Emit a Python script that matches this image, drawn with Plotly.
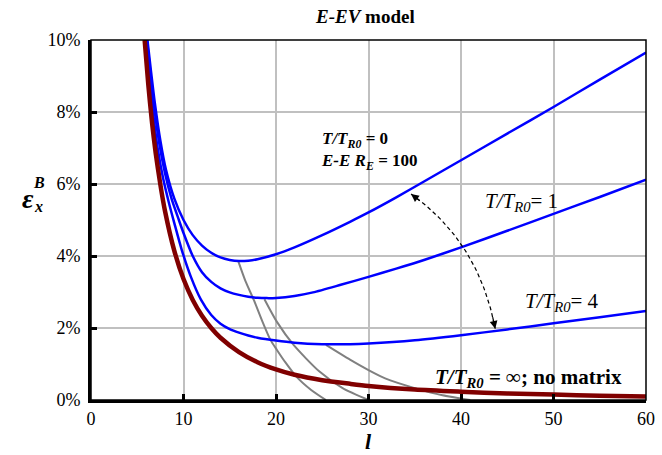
import numpy as np
import plotly.graph_objects as go

# ---- data: bending strain eps_x^B (%) versus slenderness l ----
# T/T_R0 = infinity (no matrix)
l_tinf = [5.8, 6.2, 6.6, 7.0, 7.5, 8.0, 9.0, 10, 11, 12, 13, 14, 16, 18, 20, 22, 25, 28, 30, 35, 40, 45, 50, 55, 60]
eps_tinf = [10.0, 8.75, 7.7, 6.85, 5.98, 5.25, 4.15, 3.36, 2.78, 2.34, 2.0, 1.73, 1.33, 1.05, 0.85, 0.7, 0.55, 0.45, 0.39, 0.29, 0.23, 0.18, 0.15, 0.12, 0.10]

# T/T_R0 = 4
l_t4 = [6.0, 6.3, 6.7, 7.2, 7.8, 8.4, 9.0, 9.8, 10.8, 11.9, 13, 14, 15, 16, 17, 18, 20, 22, 25, 28, 30, 35, 40, 45, 50, 55, 60]
eps_t4 = [10.0, 9.0, 8.0, 7.0, 6.15, 5.5, 4.92, 4.18, 3.42, 2.78, 2.36, 2.12, 1.97, 1.87, 1.79, 1.73, 1.65, 1.59, 1.55, 1.55, 1.57, 1.66, 1.8, 1.96, 2.13, 2.3, 2.47]

# T/T_R0 = 1
l_t1 = [6.05, 6.45, 6.85, 7.4, 8.0, 8.7, 9.5, 10, 11, 12, 13, 14, 15, 16, 17, 18, 19, 20, 22, 24, 27, 30, 33, 36, 40, 45, 50, 55, 60]
eps_t1 = [10.0, 9.0, 8.1, 7.1, 6.3, 5.6, 5.0, 4.64, 4.0, 3.55, 3.28, 3.1, 2.99, 2.92, 2.87, 2.84, 2.83, 2.835, 2.89, 2.99, 3.2, 3.42, 3.65, 3.89, 4.24, 4.7, 5.17, 5.64, 6.12]

# T/T_R0 = 0, E-E R_E = 100
l_t0 = [6.1, 6.5, 6.9, 7.5, 8.1, 9.0, 10, 11, 12, 13, 14, 15, 16, 17, 18, 20, 22, 25, 28, 30, 33, 36, 40, 45, 50, 55, 60]
eps_t0 = [10.0, 9.1, 8.25, 7.2, 6.4, 5.6, 5.0, 4.58, 4.29, 4.09, 3.96, 3.89, 3.86, 3.87, 3.91, 4.05, 4.24, 4.58, 4.95, 5.21, 5.63, 6.07, 6.66, 7.4, 8.14, 8.9, 9.65]

# loci of the minima (gray)
l_g1 = [15.9, 16.7, 17.6, 18.5, 19.4, 20.1, 21.0, 22.2, 23.8, 25.4]
eps_g1 = [3.87, 3.3, 2.78, 2.2, 1.67, 1.39, 1.05, 0.65, 0.28, 0.0]
l_g2 = [18.75, 20.1, 21.9, 24.7, 27.2, 30.0]
eps_g2 = [2.8, 2.17, 1.53, 0.79, 0.33, 0.0]
l_g3 = [25.4, 28.0, 30.0, 31.8, 35.0, 38.0, 41.0]
eps_g3 = [1.53, 1.12, 0.83, 0.6, 0.33, 0.13, 0.0]

x_ticks = [0, 10, 20, 30, 40, 50, 60]
y_ticks = [0, 2, 4, 6, 8, 10]
y_tick_text = ["0%", "2%", "4%", "6%", "8%", "10%"]

SERIF = "Liberation Serif, Times New Roman, DejaVu Serif, serif"
BLUE = "#0000ff"
DARKRED = "#800000"
GRAY = "#808080"

fig = go.Figure()


def add_curve(x, y, color, width):
    fig.add_trace(go.Scatter(
        x=x, y=y, mode="lines",
        line=dict(color=color, width=width, shape="spline", smoothing=0.7),
        hoverinfo="skip", showlegend=False,
    ))


for gx, gy in [(l_g1, eps_g1), (l_g2, eps_g2), (l_g3, eps_g3)]:
    add_curve(gx, gy, GRAY, 2)
for bx, by in [(l_t0, eps_t0), (l_t1, eps_t1), (l_t4, eps_t4)]:
    add_curve(bx, by, BLUE, 2.5)
add_curve(l_tinf, eps_tinf, DARKRED, 4.5)

# dashed curved double arrow between the T/T_R0 = 0 and T/T_R0 = 4 curves
p0 = np.array([34.6, 5.72])
p2 = np.array([43.7, 1.98])
ctrl = np.array([41.9, 4.4])
t = np.linspace(0, 1, 40)[:, None]
bez = (1 - t) ** 2 * p0 + 2 * (1 - t) * t * ctrl + t ** 2 * p2
fig.add_trace(go.Scatter(
    x=bez[:, 0], y=bez[:, 1], mode="lines",
    line=dict(color="black", width=1.2, dash="4px,3px"),
    hoverinfo="skip", showlegend=False,
))
for tip, tail in [(bez[0], bez[3]), (bez[-1], bez[-4])]:
    fig.add_annotation(
        x=tip[0], y=tip[1], ax=tail[0], ay=tail[1],
        xref="x", yref="y", axref="x", ayref="y",
        text="", showarrow=True, arrowhead=2, arrowsize=1.3,
        arrowwidth=1.2, arrowcolor="black",
    )

# text labels
fig.add_annotation(x=24.6, y=6.92, xref="x", yref="y", xanchor="left", yanchor="middle",
                   align="left",
                   text="<b><i>T/T<sub>R0</sub></i> = 0<br><i>E-E R<sub>E</sub></i> = 100</b>",
                   showarrow=False, font=dict(family=SERIF, size=17))
fig.add_annotation(x=42.4, y=5.5, xref="x", yref="y", xanchor="left", yanchor="middle",
                   text="<i>T/T<sub>R0</sub></i>= 1", showarrow=False,
                   font=dict(family=SERIF, size=21))
fig.add_annotation(x=46.7, y=2.72, xref="x", yref="y", xanchor="left", yanchor="middle",
                   text="<i>T/T<sub>R0</sub></i>= 4", showarrow=False,
                   font=dict(family=SERIF, size=21))
fig.add_annotation(x=37.0, y=0.62, xref="x", yref="y", xanchor="left", yanchor="middle",
                   text="<b><i>T/T<sub>R0</sub></i> = ∞; no matrix</b>", showarrow=False,
                   font=dict(family=SERIF, size=21))

# title and axis titles
fig.add_annotation(x=0.4, y=1.064, xref="paper", yref="paper", xanchor="left", yanchor="middle",
                   text="<b><i>E-EV</i> model</b>", showarrow=False,
                   font=dict(family=SERIF, size=19))
fig.add_annotation(x=0.5, y=-0.115, xref="paper", yref="paper", xanchor="center", yanchor="middle",
                   text="<b><i>l</i></b>", showarrow=False,
                   font=dict(family=SERIF, size=22))
fig.add_annotation(x=-0.114, y=0.56, xref="paper", yref="paper", xanchor="center", yanchor="middle",
                   text="<b><i>ε</i></b>", showarrow=False,
                   font=dict(family=SERIF, size=28))
fig.add_annotation(x=-0.093, y=0.603, xref="paper", yref="paper", xanchor="center", yanchor="middle",
                   text="<b><i>B</i></b>", showarrow=False,
                   font=dict(family=SERIF, size=16))
fig.add_annotation(x=-0.094, y=0.537, xref="paper", yref="paper", xanchor="center", yanchor="middle",
                   text="<b><i>x</i></b>", showarrow=False,
                   font=dict(family=SERIF, size=16))

# thin frame on top and right
fig.add_shape(type="rect", xref="paper", yref="paper", x0=0, y0=0, x1=1, y1=1,
              line=dict(color="black", width=1.5), layer="above")

fig.update_layout(
    width=662, height=455,
    margin=dict(l=91, r=7, t=40, b=55),
    paper_bgcolor="white", plot_bgcolor="white",
    font=dict(family=SERIF, size=18, color="black"),
    showlegend=False,
)
fig.update_xaxes(
    range=[0, 60], tickvals=x_ticks, showgrid=True, gridcolor="#c0c0c0", gridwidth=2,
    showline=True, linecolor="black", linewidth=3, zeroline=False,
    ticks="inside", ticklen=6, tickwidth=2.5, tickcolor="black",
    tickfont=dict(family=SERIF, size=18), ticklabeloverflow="allow",
    layer="above traces",
)
fig.update_yaxes(
    range=[0, 10], tickvals=y_ticks, ticktext=y_tick_text, showgrid=True,
    gridcolor="#c0c0c0", gridwidth=2,
    showline=True, linecolor="black", linewidth=3, zeroline=False,
    ticks="inside", ticklen=6, tickwidth=2.5, tickcolor="black",
    tickfont=dict(family=SERIF, size=18), ticklabelstandoff=4, layer="above traces",
)

fig.write_html("out.html")
